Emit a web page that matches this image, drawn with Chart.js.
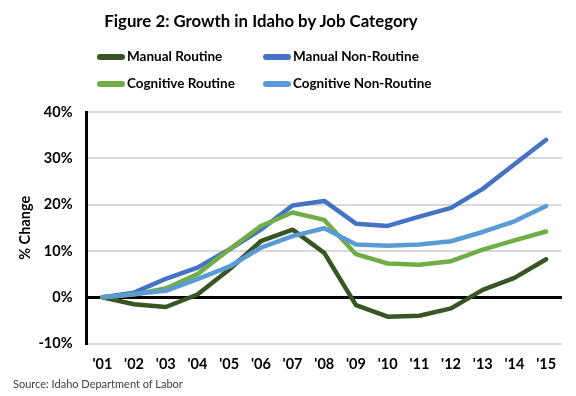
<!DOCTYPE html>
<html>
<head>
<meta charset="utf-8">
<script src="https://cdn.jsdelivr.net/npm/chart.js@4"></script>
<style>
  html, body { margin: 0; padding: 0; background: #fff; }
  #wrap { position: relative; width: 576px; height: 396px; font-family: Lato, 'Liberation Sans', sans-serif; }
  #title { position: absolute; left: 0; width: 522px; top: 10px; text-align: center; font-weight: bold; font-size: 16.8px; color: #000; }
  .lg { position: absolute; font-weight: bold; font-size: 13.5px; color: #000; line-height: 16px; white-space: nowrap; }
  .lg i { display: inline-block; width: 28px; height: 6px; border-radius: 3px; vertical-align: middle; margin-right: 2px; position: relative; top: -1px; }
  #source { position: absolute; left: 13px; top: 377px; font-size: 11px; color: #404040; }
</style>
</head>
<body>
<div id="wrap">
  <canvas id="myChart" width="576" height="396"></canvas>
  <div id="title">Figure 2: Growth in Idaho by Job Category</div>
  <div id="legend"></div>
  <div id="source">Source: Idaho Department of Labor</div>
</div>
<script>
const years = ["'01", "'02", "'03", "'04", "'05", "'06", "'07", "'08", "'09", "'10", "'11", "'12", "'13", "'14", "'15"];
const manualRoutine = [0, -1.5, -2.1, 0.6, 6.0, 12.1, 14.6, 9.6, -1.7, -4.2, -4.0, -2.4, 1.6, 4.2, 8.2];
const manualNonRoutine = [0, 1.0, 4.0, 6.4, 10.3, 14.6, 19.8, 20.8, 15.9, 15.4, 17.4, 19.3, 23.4, 28.7, 34.0];
const cognitiveRoutine = [0, 0.6, 1.9, 5.0, 10.3, 15.4, 18.3, 16.7, 9.3, 7.3, 7.0, 7.8, 10.3, 12.3, 14.2];
const cognitiveNonRoutine = [0, 0.7, 1.4, 3.9, 6.6, 10.7, 13.2, 14.9, 11.4, 11.1, 11.4, 12.1, 14.1, 16.4, 19.7];
const yTicks = [-10, 0, 10, 20, 30, 40];

const series = [
  { label: 'Manual Routine', data: manualRoutine, color: '#375623', order: 4 },
  { label: 'Manual Non-Routine', data: manualNonRoutine, color: '#4472C4', order: 3 },
  { label: 'Cognitive Routine', data: cognitiveRoutine, color: '#70AD47', order: 2 },
  { label: 'Cognitive Non-Routine', data: cognitiveNonRoutine, color: '#5B9BD5', order: 1 }
];

// legend laid out as a 2x2 grid like the original
const legendPos = [[97, 48], [263, 48], [97, 75], [263, 75]];
const legend = document.getElementById('legend');
series.forEach((s, i) => {
  const el = document.createElement('div');
  el.className = 'lg';
  el.style.left = legendPos[i][0] + 'px';
  el.style.top = legendPos[i][1] + 'px';
  el.innerHTML = '<i style="background:' + s.color + '"></i>' + s.label;
  legend.appendChild(el);
});

const ctx = document.getElementById('myChart').getContext('2d');
const font = { family: "Lato, 'Liberation Sans', sans-serif", size: 14.5, weight: 'bold' };

new Chart(ctx, {
  type: 'line',
  data: {
    labels: years,
    datasets: series.map(s => ({
      label: s.label,
      data: s.data,
      borderColor: s.color,
      backgroundColor: s.color,
      borderWidth: 4.5,
      pointRadius: 0,
      tension: 0,
      order: s.order,
      borderCapStyle: 'round',
      borderJoinStyle: 'round'
    }))
  },
  options: {
    responsive: false,
    animation: false,
    layout: {
      padding: { top: 112, right: 14, bottom: 11, left: 17 }
    },
    scales: {
      y: {
        min: yTicks[0],
        max: yTicks[yTicks.length - 1],
        afterBuildTicks: axis => { axis.ticks = yTicks.map(v => ({ value: v })); },
        ticks: {
          color: '#000',
          font: font,
          padding: 14,
          callback: v => v + '%'
        },
        grid: {
          drawTicks: false,
          color: c => c.tick && c.tick.value === 0 ? '#000' : '#d9d9d9',
          lineWidth: c => c.tick && c.tick.value === 0 ? 3 : 2
        },
        border: { color: '#000', width: 3 },
        title: {
          display: true,
          text: '% Change',
          color: '#000',
          font: font,
          padding: { top: 0, bottom: -10 }
        }
      },
      x: {
        offset: true,
        grid: { display: false, drawTicks: false },
        border: { display: false },
        ticks: {
          color: '#000',
          font: font,
          padding: 12,
          maxRotation: 0,
          autoSkip: false
        }
      }
    },
    plugins: {
      legend: { display: false },
      tooltip: { enabled: false }
    }
  }
});
</script>
</body>
</html>
